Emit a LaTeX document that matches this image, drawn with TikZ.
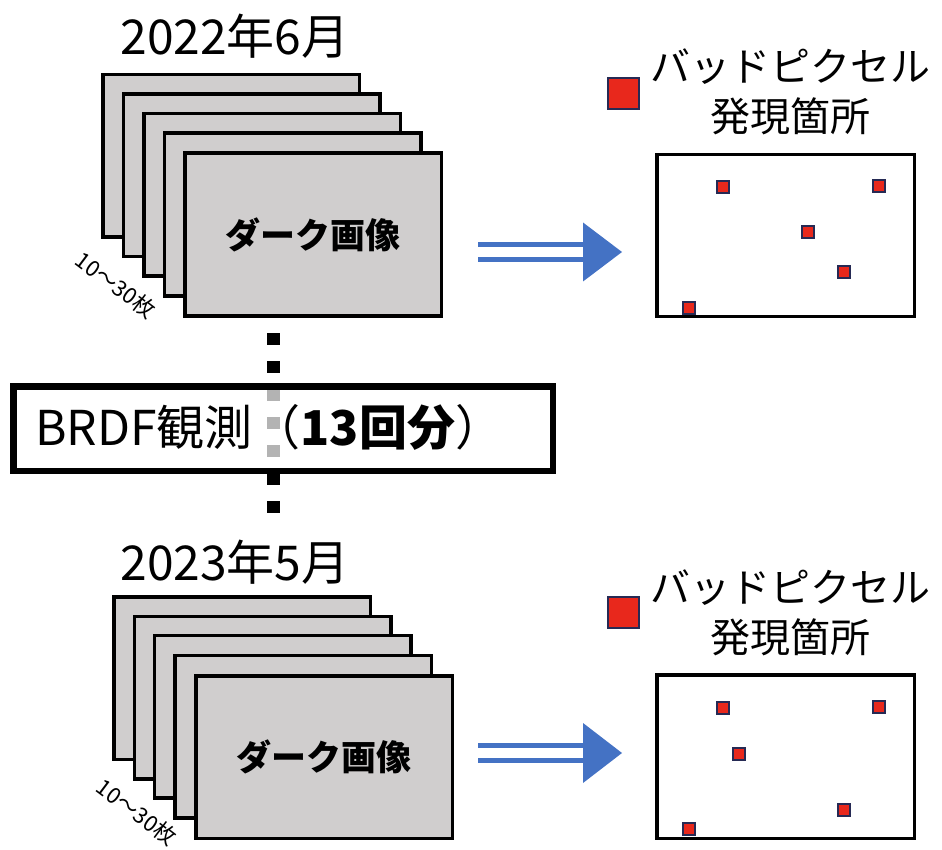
\documentclass[tikz,border=0pt]{standalone}
\usepackage{fontspec}
\setmainfont{Noto Sans CJK JP}
\definecolor{framegray}{RGB}{208,206,206}
\definecolor{arrowblue}{RGB}{68,114,196}
\definecolor{pixred}{RGB}{232,40,28}
\definecolor{pixedge}{RGB}{38,42,84}
\begin{document}
\begin{tikzpicture}[x=1pt,y=-1pt,
  darkframe/.style={draw=black, fill=framegray, line width=3.5pt,
    minimum width=256.5pt, minimum height=162.5pt, inner sep=0pt},
  panel/.style={draw=black, line width=3.5pt, minimum width=257.5pt, inner sep=0pt},
  pix/.style={draw=pixedge, fill=pixred, line width=2.6pt, minimum size=12pt, inner sep=0pt},
  legendpix/.style={pix, line width=2pt, minimum size=31pt},
  titletext/.style={font=\fontsize{48}{52}\selectfont, inner sep=0pt},
  darktext/.style={font=\bfseries\fontsize{35}{35}\selectfont, inner sep=0pt},
  counttext/.style={font=\fontsize{22}{22}\selectfont, rotate=-37, inner sep=0pt},
  legendtext/.style={font=\fontsize{40}{50}\selectfont, align=center, inner sep=0pt},
  dblarrow/.style={draw=arrowblue, line width=5.5pt, double=white, double distance=9.5pt},
  arrowhead/.style={fill=arrowblue},
  dotline/.style={line width=13pt, dash pattern=on 12pt off 16pt}
]
\useasboundingbox (0,0) rectangle (942,850);

% ---------- top group ----------
\node[titletext] (t1) at (235,36) {2022年6月};
\foreach \i/\x/\y in {1/231/156, 2/251.5/175.5, 3/272/195, 4/292.5/214.5, 5/313/234.5}
  \node[darkframe] (fa\i) at (\x,\y) {};
\node[darktext] (d1) at (fa5) {ダーク画像};
\node[counttext] (n1) at (116,285) {10〜30枚};

% ---------- dotted separator and BRDF box ----------
\coordinate (dtop) at (273,333);
\coordinate (dbot) at (273,513);
\draw[dotline] (dtop) -- (dbot);
\node[draw=black, line width=6.5pt, fill=white, fill opacity=0.7, text opacity=1,
  minimum width=539.5pt, minimum height=84.5pt, inner sep=0pt] (brdf) at (283,428.5) {};
\node[titletext, anchor=west] (brdft) at (35,427) {BRDF観測（\textbf{13回分}）};

% ---------- top arrow ----------
\coordinate (a1s) at (478,252);
\coordinate (a1e) at (584,252);
\draw[dblarrow] (a1s) -- (a1e);
\fill[arrowhead] (a1e) ++(-1,-29.5) -- ++(39,29.5) -- ++(-39,29.5) -- cycle;

% ---------- top panel ----------
\node[legendpix] (l1) at (623,94) {};
\node[legendtext] (lt1) at (790,92) {バッドピクセル\\発現箇所};
\node[panel, minimum height=161.5pt] (p1) at (785.5,235.5) {};
\node[pix] (pa1) at (723,187) {};
\node[pix] (pa2) at (879,186) {};
\node[pix] (pa3) at (808,232) {};
\node[pix] (pa4) at (844,272) {};
\node[pix] (pa5) at (689,308) {};

% ---------- bottom group ----------
\node[titletext] (t2) at (235,562) {2023年5月};
\foreach \i/\x/\y in {1/242/678, 2/262.5/697.5, 3/282.5/716.5, 4/303/736.5, 5/324/757}
  \node[darkframe] (fb\i) at (\x,\y) {};
\node[darktext] (d2) at (fb5) {ダーク画像};
\node[counttext] (n2) at (137,812) {10〜30枚};

% ---------- bottom arrow ----------
\coordinate (a2s) at (478,753);
\coordinate (a2e) at (584,753);
\draw[dblarrow] (a2s) -- (a2e);
\fill[arrowhead] (a2e) ++(-1,-30) -- ++(39,30) -- ++(-39,30) -- cycle;

% ---------- bottom panel ----------
\node[legendpix] (l2) at (623,612) {};
\node[legendtext] (lt2) at (790,613) {バッドピクセル\\発現箇所};
\node[panel, minimum height=163.5pt] (p2) at (785.5,756.5) {};
\node[pix] (pb1) at (723,708) {};
\node[pix] (pb2) at (879,707) {};
\node[pix] (pb3) at (739,754) {};
\node[pix] (pb4) at (844,810) {};
\node[pix] (pb5) at (689,829) {};
\end{tikzpicture}
\end{document}
